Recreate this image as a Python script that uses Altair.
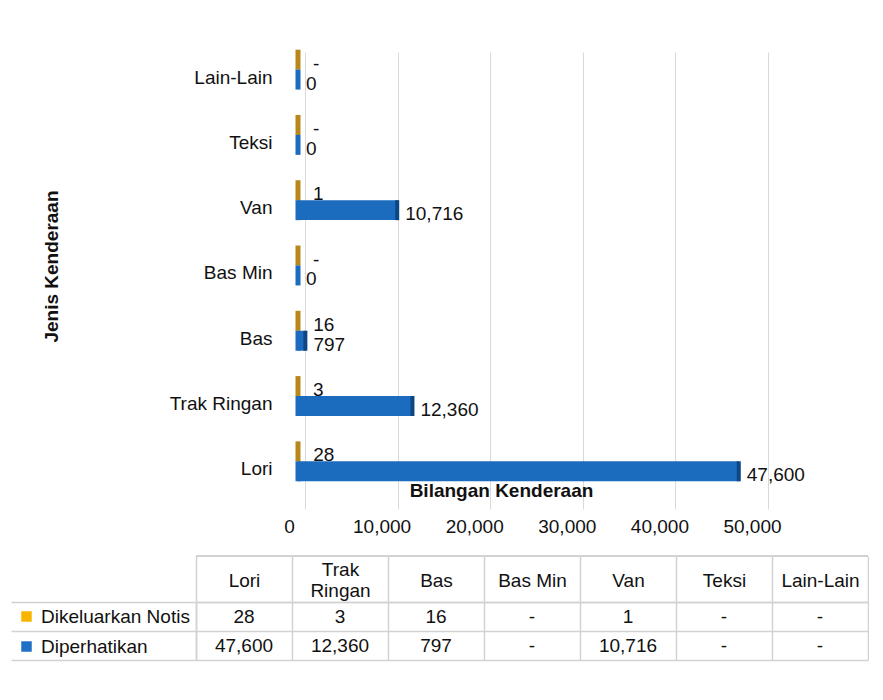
import altair as alt
import pandas as pd

# ---------------- data ----------------
categories = ["Lori", "Trak Ringan", "Bas", "Bas Min", "Van", "Teksi", "Lain-Lain"]
series = ["Dikeluarkan Notis", "Diperhatikan"]
notis = [28, 3, 16, 0, 1, 0, 0]
diperhatikan = [47600, 12360, 797, 0, 10716, 0, 0]
x_ticks = [0, 10000, 20000, 30000, 40000, 50000]

FONT = "Liberation Sans"
TXT = "#111111"
GRID = "#d9d9d9"
TBL = "#d2d2d2"
BAR_GOLD = "#b8871a"
BAR_BLUE = "#1b6bbf"
CAP_BLUE = "#0d4685"
LEG_GOLD = "#f7b500"
LEG_BLUE = "#1f6fc5"

rows = []
for i, c in enumerate(categories):
    for s, vals in zip(series, [notis, diperhatikan]):
        v = vals[i]
        rows.append({
            "kategori": c,
            "siri": s,
            "nilai": v,
            "label_carta": ("-" if (v == 0 and s == series[0]) else f"{v:,}"),
            "label_jadual": ("-" if v == 0 else f"{v:,}"),
        })
df = pd.DataFrame(rows)

# ---------------- bar chart ----------------
y_scale = alt.Scale(paddingInner=0.39, paddingOuter=0.195, align=0.185)
y_axis = alt.Axis(
    title="Jenis Kenderaan", offset=-103, labelPadding=27, ticks=False,
    domain=False, grid=False, labelOffset=8, labelFontSize=19,
    labelColor=TXT, labelFont=FONT, titleFont=FONT, titleFontSize=19,
    titleFontWeight="bold", titleColor=TXT, titleX=-248, titleY=221,
    titleAngle=270, titleAlign="center", titleBaseline="middle",
)
y_enc = alt.Y("kategori:N", sort=categories[::-1], scale=y_scale, axis=y_axis)
yoff = alt.YOffset("siri:N", sort=series)
x_scale = alt.Scale(domain=[0, 50000], range=[102, 565], nice=False, zero=True)
x_axis = alt.Axis(
    values=x_ticks, labelExpr="format(datum.value, ',')", labelFlush=False,
    title="Bilangan Kenderaan", grid=True,
    gridColor=GRID, gridWidth=1, domain=False, ticks=False, translate=7.5,
    labelOffset=-16, labelPadding=8, labelFontSize=19, labelColor=TXT,
    labelFont=FONT, titleFont=FONT, titleFontSize=19, titleFontWeight="bold",
    titleColor=TXT, titleX=298, titleY=-19, titleAlign="center",
    titleBaseline="middle",
)
x_enc = alt.X("nilai:Q", scale=x_scale, axis=x_axis)
x_start = alt.X("mula:Q", scale=x_scale, axis=x_axis)
bar_color = alt.Color("siri:N", sort=series,
                      scale=alt.Scale(domain=series, range=[BAR_GOLD, BAR_BLUE]),
                      legend=None)

base = alt.Chart(df)
bars = base.mark_bar().encode(y=y_enc, yOffset=yoff, x=x_enc, color=bar_color)
slivers = base.transform_calculate(mula="0").mark_tick(
    thickness=5, size=20, opacity=1
).encode(y=y_enc, yOffset=yoff, x=x_start, color=bar_color)
caps = base.transform_filter(
    (alt.datum.siri == series[1]) & (alt.datum.nilai > 0)
).mark_tick(thickness=4, size=20, color=CAP_BLUE, opacity=1).encode(
    y=y_enc, yOffset=yoff, x=x_enc)
lbl_gold = base.transform_filter(alt.datum.siri == series[0]).mark_text(
    align="left", baseline="middle", dx=15, dy=4, fontSize=19, font=FONT, color=TXT
).encode(y=y_enc, yOffset=yoff, x=x_enc, text="label_carta:N")
lbl_blue = base.transform_filter(alt.datum.siri == series[1]).mark_text(
    align="left", baseline="middle", dx=8, dy=4, fontSize=19, font=FONT, color=TXT
).encode(y=y_enc, yOffset=yoff, x=x_enc, text="label_carta:N")

bar_chart = alt.layer(bars, slivers, caps, lbl_gold, lbl_blue).properties(
    width=569, height=457)

# ---------------- data table ----------------
COLW = 96
TW = COLW * len(categories)
tx_scale = alt.Scale(paddingInner=0, paddingOuter=0)
tx_axis = alt.Axis(
    orient="top", title=None, tickBand="extent", tickSize=46, tickColor=TBL,
    tickWidth=1.5, domain=True, domainColor=TBL, domainWidth=1.5, grid=True,
    gridColor=TBL, gridWidth=1.5,
    labelPadding={"condition": {"test": "length(datum.label) > 9", "value": -13},
                  "value": -24},
    labelBaseline="middle",
    labelAngle=0,
    labelExpr="length(datum.label) > 9 ? split(datum.label, ' ') : datum.label",
    labelLineHeight=21, labelFontSize=19, labelFont=FONT, labelColor=TXT,
)
tx = alt.X("kategori:N", sort=categories, scale=tx_scale, axis=tx_axis)
ty_scale = alt.Scale(paddingInner=0, paddingOuter=0)
ty_axis = alt.Axis(
    title=None, labels=False, tickBand="extent", tickSize=185, tickColor=TBL,
    tickWidth=1.5, domain=True, domainColor=TBL, domainWidth=1.5, grid=True,
    gridColor=TBL, gridWidth=1.5,
)
ty = alt.Y("siri:N", sort=series, scale=ty_scale, axis=ty_axis)

tbase = alt.Chart(df)
legend_layer = tbase.mark_square(opacity=0).encode(
    x=tx, y=ty,
    color=alt.Color(
        "siri:N", sort=series,
        scale=alt.Scale(domain=series, range=[LEG_GOLD, LEG_BLUE]),
        legend=alt.Legend(
            orient="none", legendX=-179, legendY=5, title=None,
            symbolType="square", symbolSize=110, symbolOpacity=1,
            symbolStrokeWidth=0, labelFontSize=19, labelFont=FONT,
            labelColor=TXT, labelOffset=5, rowPadding=10, padding=0,
            labelLimit=300,
        ),
    ),
)
cells = tbase.mark_text(fontSize=19, font=FONT, color=TXT, baseline="middle").encode(
    x=tx, y=ty, text="label_jadual:N")
top_line = tbase.mark_rule(color=TBL, strokeWidth=1.5).encode(
    x=alt.value(0), x2=alt.value(TW), y=alt.value(-46))

table_chart = alt.layer(legend_layer, cells, top_line).properties(width=TW, height=58)

chart = (
    alt.vconcat(bar_chart, table_chart, spacing=26)
    .resolve_scale(color="independent", x="independent", y="independent")
    .properties(padding={"left": 2, "top": 37, "right": 0, "bottom": 5})
    .configure(font=FONT, background="white")
    .configure_view(stroke="transparent", strokeWidth=0)
)

chart.save("out.html", embed_options={"renderer": "svg", "actions": False})
